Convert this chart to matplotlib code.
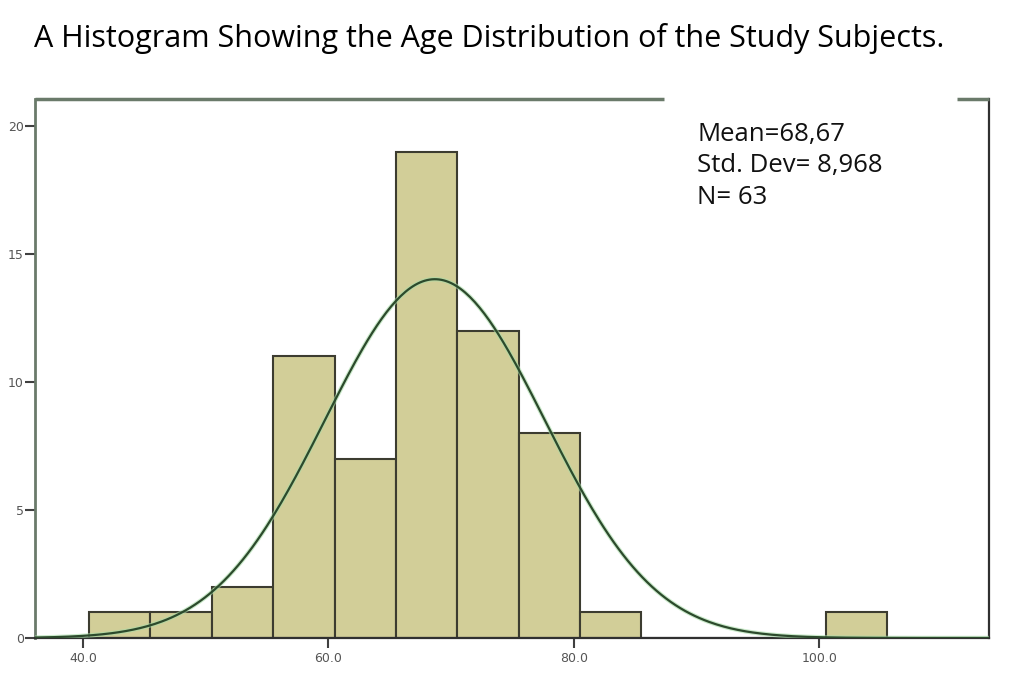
import numpy as np
import matplotlib
matplotlib.use('Agg')
import matplotlib.pyplot as plt

# age histogram bins (width 5) and counts
bin_edges = [40.5, 45.5, 50.5, 55.5, 60.5, 65.5, 70.5, 75.5, 80.5, 85.5,
             90.5, 95.5, 100.5, 105.5]
counts = [1, 1, 2, 11, 7, 19, 12, 8, 1, 0, 0, 0, 1]
mean_age = 68.67
std_age = 8.968
n_subjects = 63
x_ticks = [40, 60, 80, 100]
y_ticks = [0, 5, 10, 15, 20]

plt.rcParams['font.family'] = ['Open Sans', 'DejaVu Sans']

fig = plt.figure(figsize=(10.18, 6.81), dpi=100)
ax = fig.add_axes([0.0344, 0.0631, 0.937, 0.7915])

widths = np.diff(bin_edges)
ax.bar(bin_edges[:-1], counts, width=widths, align='edge',
       color='#d2ce98', edgecolor='#3c3c30', linewidth=1.5, zorder=2)

# fitted normal curve from the stated mean / sd
xs = np.linspace(36.1, 113.8, 400)
bw = 5
ys = n_subjects * bw / (std_age * np.sqrt(2 * np.pi)) * np.exp(-0.5 * ((xs - mean_age) / std_age) ** 2)
ax.plot(xs, ys, color='#a8dca8', linewidth=3.2, zorder=3, alpha=0.6)
ax.plot(xs, ys, color='#2c4a2c', linewidth=1.6, zorder=4)

ax.set_xlim(36.1, 113.8)
ax.set_ylim(0, 21.05)
ax.set_xticks(x_ticks)
ax.set_xticklabels([f'{t:.1f}' for t in x_ticks])
ax.set_yticks(y_ticks)
ax.tick_params(axis='both', direction='out', length=7, width=1.5,
               color='#404040', labelsize=9, labelcolor='#555555',
               labelfontfamily='DejaVu Sans')
ax.tick_params(axis='x', pad=3)
ax.tick_params(axis='y', pad=1)

for s in ['left', 'top']:
    ax.spines[s].set_color('#6a7a6a')
    ax.spines[s].set_linewidth(2)
for s in ['right', 'bottom']:
    ax.spines[s].set_color('#303030')
    ax.spines[s].set_linewidth(1.6)

# gap in the top border behind the stats text
ax.spines['top'].set_visible(False)
ax.plot([36.1, 87.3], [21.05, 21.05], color='#6a7a6a', linewidth=2.5,
        clip_on=False, zorder=5, solid_capstyle='butt')
ax.plot([111.2, 113.8], [21.05, 21.05], color='#6a7a6a', linewidth=2.5,
        clip_on=False, zorder=5, solid_capstyle='butt')

ax.text(0.694, 0.958, f'Mean=68,67\nStd. Dev= 8,968\nN= {n_subjects}',
        transform=ax.transAxes, fontsize=18.5, va='top', ha='left',
        linespacing=1.36, color='#111111')

fig.text(0.033, 0.944, 'A Histogram Showing the Age Distribution of the Study Subjects.',
         fontsize=22, ha='left', va='center', color='#000000')

fig.savefig('out.png', dpi=100)
